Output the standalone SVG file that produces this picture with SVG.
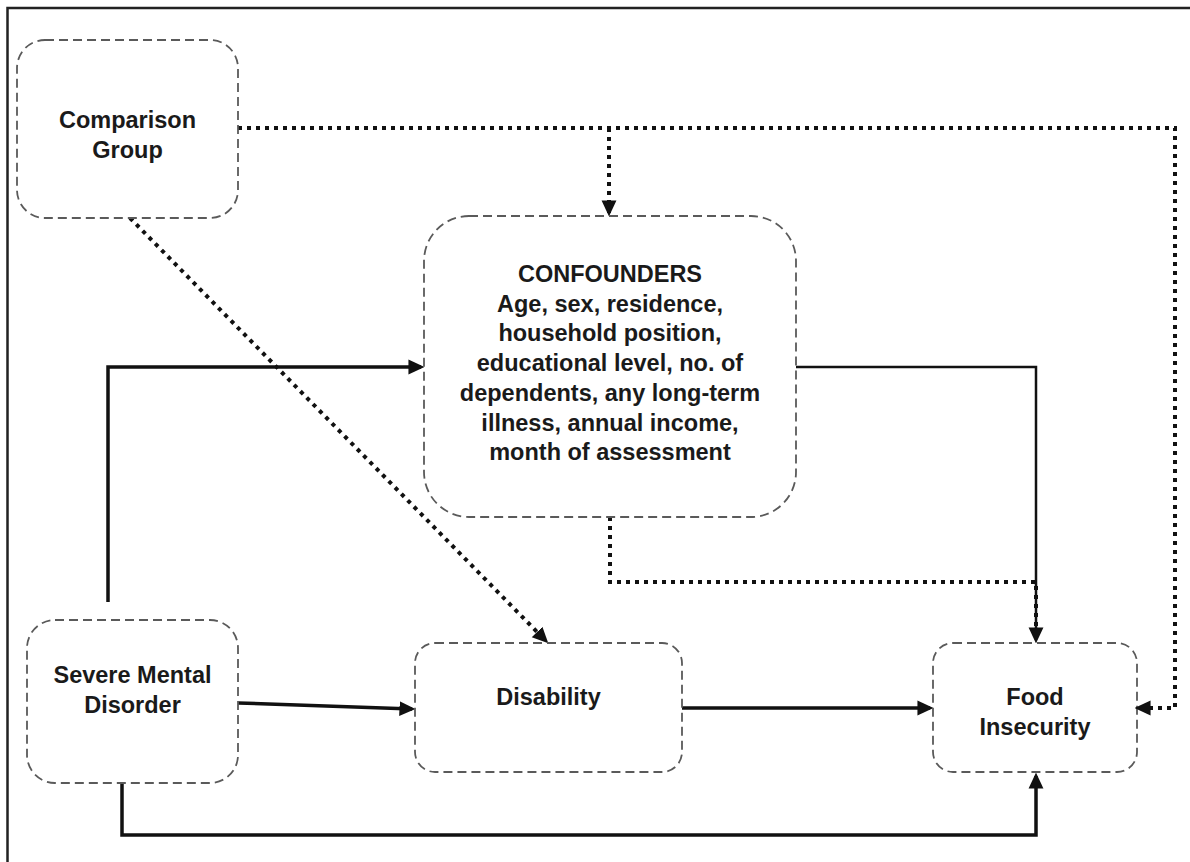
<svg xmlns="http://www.w3.org/2000/svg" width="1190" height="862" viewBox="0 0 1190 862">
  <defs>
    <marker id="arrow" markerUnits="userSpaceOnUse" markerWidth="16" markerHeight="16" viewBox="0 0 14 13" refX="11" refY="6.5" orient="auto">
      <path d="M0,0 L14,6.5 L0,13 z" fill="#111"/>
    </marker>
    <style>
      .box { fill: #fff; stroke: #5a5a5a; stroke-width: 1.8; stroke-dasharray: 9 5; }
      .label { font-family: "Liberation Sans", Arial, sans-serif; font-weight: bold; font-size: 23.5px; fill: #1a1a1a; text-anchor: middle; }
      .solid { fill: none; stroke: #111; stroke-width: 3.5; }
      .thin { fill: none; stroke: #111; stroke-width: 2.5; }
      .dotted { fill: none; stroke: #111; stroke-width: 4; stroke-dasharray: 4 5; }
    </style>
  </defs>

  <rect width="1190" height="862" fill="#fff"/>
  <!-- outer frame (top and left edges) -->
  <path d="M7.5,870 V8 H1200" fill="none" stroke="#222" stroke-width="2.5"/>

  <g id="connectors">
    <!-- Comparison Group -> Food Insecurity (dotted, via right margin) -->
    <path class="dotted" d="M238,128 H1175 V708 H1140"/>
    <!-- Comparison Group -> Confounders (dotted branch) -->
    <path class="dotted" d="M609,128 V213" marker-end="url(#arrow)"/>
    <!-- Comparison Group -> Disability (dotted diagonal) -->
    <path class="dotted" d="M130,218 L545.9,640.9" marker-end="url(#arrow)"/>
    <!-- Severe Mental Disorder -> Confounders -->
    <path class="solid" d="M108,602 V367 H421" marker-end="url(#arrow)"/>
    <!-- Severe Mental Disorder -> Disability -->
    <path class="solid" d="M238,703 L412,709" marker-end="url(#arrow)"/>
    <!-- Disability -> Food Insecurity -->
    <path class="solid" d="M682,708 H930" marker-end="url(#arrow)"/>
    <!-- Confounders -> Food Insecurity (dotted) -->
    <path class="dotted" d="M610,517 V582 H1036 V640"/>
    <!-- Confounders -> Food Insecurity (solid) -->
    <path class="thin" d="M796,367 H1036 V640" marker-end="url(#arrow)"/>
    <!-- Severe Mental Disorder -> Food Insecurity (below) -->
    <path class="solid" d="M122,783 V835 H1036 V776" marker-end="url(#arrow)"/>
  </g>

  <g id="comparison-group">
    <rect class="box" x="17" y="40" width="221" height="178" rx="28" ry="28"/>
    <text class="label" x="127.5" y="128">Comparison</text>
    <text class="label" x="127.5" y="158">Group</text>
  </g>

  <g id="confounders">
    <rect class="box" x="424" y="216" width="372" height="301" rx="45" ry="45"/>
    <text class="label" x="610" y="282">CONFOUNDERS</text>
    <text class="label" x="610" y="312">Age, sex, residence,</text>
    <text class="label" x="610" y="341">household position,</text>
    <text class="label" x="610" y="371">educational level, no. of</text>
    <text class="label" x="610" y="401">dependents, any long-term</text>
    <text class="label" x="610" y="431">illness, annual income,</text>
    <text class="label" x="610" y="460">month of assessment</text>
  </g>

  <g id="severe-mental-disorder">
    <rect class="box" x="27" y="620" width="211" height="163" rx="28" ry="28"/>
    <text class="label" x="132.5" y="683">Severe Mental</text>
    <text class="label" x="132.5" y="713">Disorder</text>
  </g>

  <g id="disability">
    <rect class="box" x="415" y="643" width="267" height="129" rx="20" ry="20"/>
    <text class="label" x="548.5" y="705">Disability</text>
  </g>

  <g id="food-insecurity">
    <rect class="box" x="933" y="643" width="204" height="129" rx="20" ry="20"/>
    <text class="label" x="1035" y="705">Food</text>
    <text class="label" x="1035" y="735">Insecurity</text>
  </g>

  <!-- arrowhead of the right-margin dotted connector, drawn over the box edge -->
  <path d="M1152,708 L1138,708" fill="none" stroke="none" marker-end="url(#arrow)"/>
</svg>
